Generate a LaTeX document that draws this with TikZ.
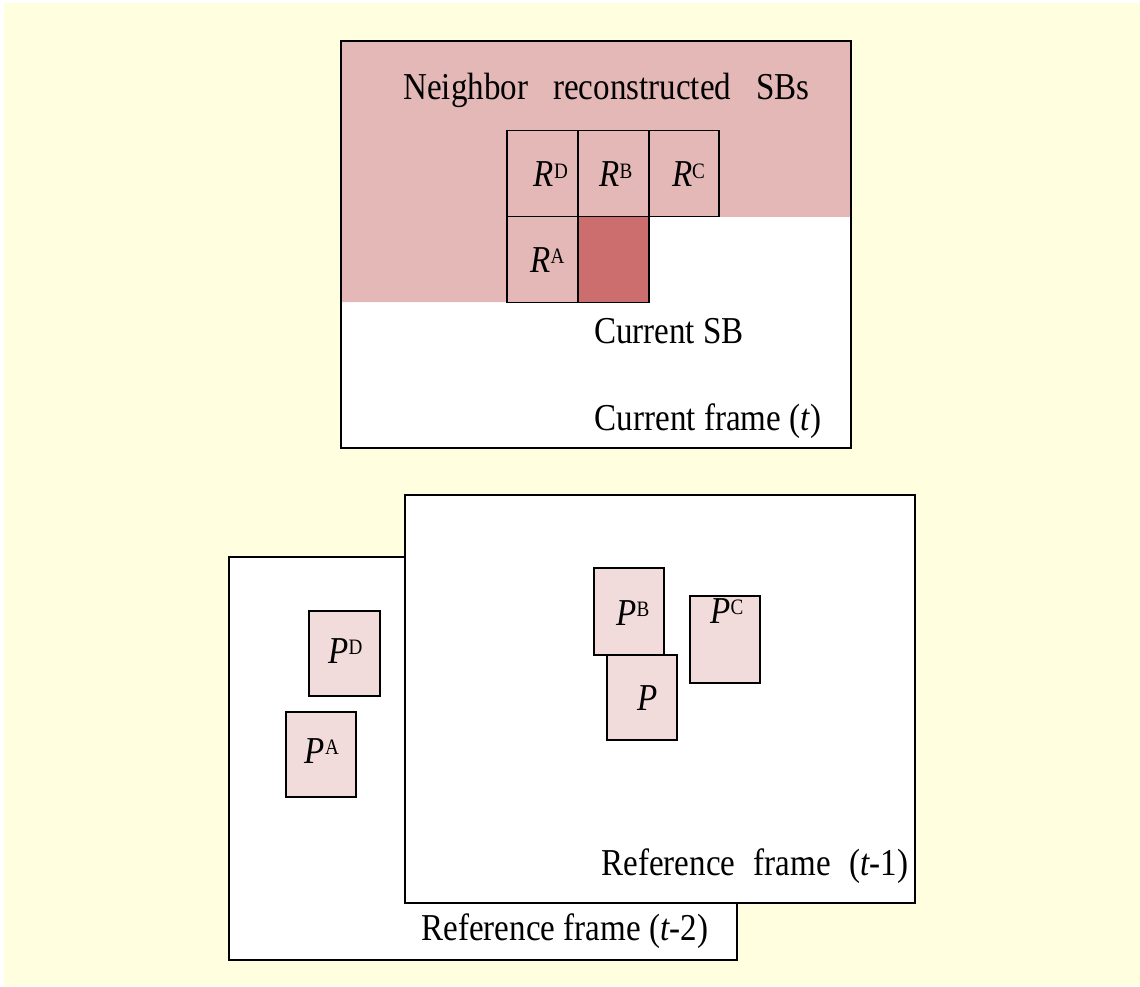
\documentclass[tikz,border=0pt]{standalone}
\usepackage{fontspec}
\setmainfont{Liberation Serif}[FakeStretch=0.87]
\usetikzlibrary{calc}
\definecolor{pagebg}{HTML}{FFFFE0}
\definecolor{nbpink}{HTML}{E4B8B7}
\definecolor{curred}{HTML}{CB6E6D}
\definecolor{predpink}{HTML}{F1DCDB}
\newcommand{\lbl}{\fontsize{38}{40}\selectfont}
\newcommand{\blkidx}[1]{\raisebox{9pt}{\fontsize{22}{22}\selectfont #1}}
\tikzset{
  frame/.style={draw=black, line width=1.8pt, fill=white},
  cellbox/.style={draw=black, line width=1.8pt, fill=nbpink, inner sep=0pt},
  predbox/.style={draw=black, line width=1.8pt, fill=predpink, inner sep=0pt},
  txt/.style={inner sep=0pt, anchor=base, font=\lbl},
}
\begin{document}
\begin{tikzpicture}[x=1pt, y=-1pt]
\useasboundingbox (0,0) rectangle (1140,987);
\fill[white] (0,0) rectangle (1140,987);
\fill[pagebg] (4,3) rectangle (1140,986);

% current frame with the region of reconstructed neighbour SBs
\draw[frame] (341,41) rectangle (851,448);
\fill[nbpink] (341,41) -- (851,41) -- (851,217) -- (507,217) -- (507,302) -- (341,302) -- cycle;
\draw[line width=1.8pt] (341,41) rectangle (851,448);

\node[cellbox, minimum width=71pt, minimum height=86pt] (rd) at (542.5,173.5) {};
\node[cellbox, minimum width=71pt, minimum height=86pt] (rb) at (613.5,173.5) {};
\node[cellbox, minimum width=70pt, minimum height=86pt] (rc) at (684,173.5) {};
\node[cellbox, minimum width=71pt, minimum height=86pt] (ra) at (542.5,259.5) {};
\node[cellbox, fill=curred, minimum width=71pt, minimum height=86pt] (cur) at (613.5,259.5) {};

\node[txt] (lrd) at (551,187) {\textit{R}\blkidx{D}};
\node[txt] (lrb) at (616,187) {\textit{R}\blkidx{B}};
\node[txt] (lrc) at (688.5,187) {\textit{R}\blkidx{C}};
\node[txt] (lra) at (547.5,272) {\textit{R}\blkidx{A}};

\node[txt] (nbtitle) at (606.5,100) {Neighbor\hspace{25pt}reconstructed\hspace{25pt}SBs};
\node[txt] (curlabel) at (669,343) {Current SB};
\node[txt] (curframe) at (708,430) {Current frame (\textit{t})};

% reference frames
\draw[frame] (229,557) rectangle (737,960);
\node[txt] (ref2) at (565,940) {Reference frame (\textit{t}-2)};
\node[predbox, minimum width=71pt, minimum height=85pt] (pd) at (344.5,653.5) {};
\node[predbox, minimum width=70pt, minimum height=85pt] (pa) at (321,754.5) {};
\node[txt] (lpd) at (345.5,663) {\textit{P}\blkidx{D}};
\node[txt] (lpa) at (322,763) {\textit{P}\blkidx{A}};

\draw[frame] (405,495) rectangle (915,903);
\node[txt] (ref1) at (755,875) {Reference\hspace{10pt} frame\hspace{10pt} (\textit{t}-1)};
\node[predbox, minimum width=70pt, minimum height=87pt] (pb) at (629,611.5) {};
\node[predbox, minimum width=70pt, minimum height=87pt] (pc) at (725,639.5) {};
\node[predbox, minimum width=70pt, minimum height=85pt] (pp) at (642,697.5) {};
\node[txt] (lpb) at (633,625) {\textit{P}\blkidx{B}};
\node[txt] (lpc) at (727,623) {\textit{P}\blkidx{C}};
\node[txt] (lpp) at (648,710) {\textit{P}};
\end{tikzpicture}
\end{document}
